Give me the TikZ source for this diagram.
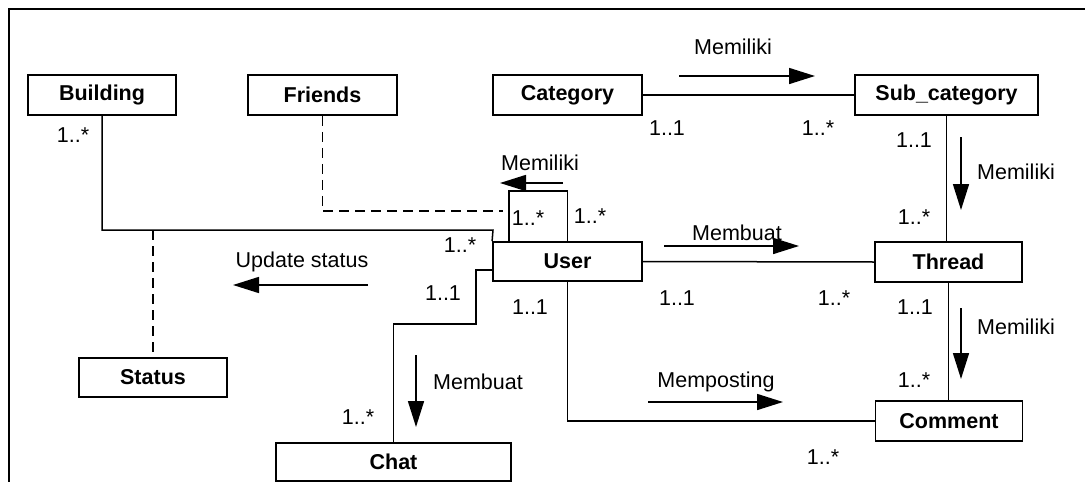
\documentclass[tikz,border=0pt]{standalone}
\usepackage{fontspec}
\setmainfont{Liberation Sans}
\usetikzlibrary{arrows.meta,calc}
\begin{document}
\begin{tikzpicture}[x=1pt,y=-1pt,
  cls/.style={draw,line width=1.8pt,minimum height=40pt,inner sep=0pt,font=\fontsize{21.5}{24}\selectfont\bfseries},
  conn/.style={line width=1.5pt},
  dep/.style={line width=1.5pt,dash pattern=on 10pt off 6pt},
  dir/.style={line width=1.6pt,-{Triangle[length=26pt,width=16pt]}},
  lbl/.style={font=\fontsize{21.5}{24}\selectfont,inner sep=0pt}]
\useasboundingbox (0,0) rectangle (1085,482);
% frame
\draw[line width=1.2pt] (1085,9) -- (9,9) -- (9,482);
% classes
\node[cls,minimum width=148pt] (bld) at (102,95) {Building};
\node[cls,minimum width=149pt] (frd) at (322.5,95) {Friends};
\node[cls,minimum width=149pt] (cat) at (567.5,95) {Category};
\node[cls,minimum width=183pt] (sub) at (946.5,95) {Sub\_category};
\node[cls,minimum width=149pt,minimum height=39pt] (usr) at (567.5,261.5) {User};
\node[cls,minimum width=147pt] (thr) at (948.5,262) {Thread};
\node[cls,minimum width=148pt,minimum height=39pt] (sts) at (153,377.5) {Status};
\node[cls,minimum width=147pt] (cmt) at (949,421) {Comment};
\node[cls,minimum width=235pt,minimum height=38pt] (cht) at (393.5,462) {Chat};
% helper coordinates
\coordinate (b1) at (493,230);
\coordinate (f1) at (503,211);
\coordinate (c2) at (393.5,324);
% connectors
\draw[conn] (bld.south) |- (b1) -- (usr.north west);
\draw[dep] (sts.north |- b1) -- (sts.north);
\draw[dep] (frd.south) |- (f1);
\draw[conn] ([xshift=-58.5pt]usr.north) -- ++(0,50pt) -| (usr.north);
\draw[conn] (cat.east) -- (sub.west);
\draw[conn] (sub.south) -- (sub.south |- thr.north);
\draw[conn] (usr.east) -- (thr.west);
\draw[conn] (thr.south) -- (thr.south |- cmt.north);
\draw[conn] (usr.south) |- (cmt.west);
\draw[conn] ([yshift=-8.5pt]usr.west) -- ++(-16pt,0) |- (c2) -- (cht.north);
% direction arrows
\coordinate (a1s) at (679,76);  \coordinate (a1e) at (815,76);
\coordinate (a2s) at (961,137); \coordinate (a2e) at (961,210);
\coordinate (a3s) at (563,183); \coordinate (a3e) at (500,183);
\coordinate (a4s) at (368,285); \coordinate (a4e) at (233,285);
\coordinate (a5s) at (664,246); \coordinate (a5e) at (799,246);
\coordinate (a6s) at (961,308); \coordinate (a6e) at (961,379);
\coordinate (a7s) at (648,402); \coordinate (a7e) at (783,402);
\coordinate (a8s) at (416,355); \coordinate (a8e) at (416,427);
\draw[dir] (a1s) -- (a1e);
\draw[dir] (a2s) -- (a2e);
\draw[dir] (a3s) -- (a3e);
\draw[dir] (a4s) -- (a4e);
\draw[dir] (a5s) -- (a5e);
\draw[dir] (a6s) -- (a6e);
\draw[dir] (a7s) -- (a7e);
\draw[dir] (a8s) -- (a8e);
% labels
\node[lbl] (l1) at (733,47) {Memiliki};
\node[lbl] (l2) at (1016,172) {Memiliki};
\node[lbl] (l3) at (540,163) {Memiliki};
\node[lbl] (l4) at (302,262) {Update status};
\node[lbl] (l5) at (737,233) {Membuat};
\node[lbl] (l6) at (1016,327) {Memiliki};
\node[lbl] (l7) at (716,382) {Memposting};
\node[lbl] (l8) at (478,382) {Membuat};
% multiplicities
\node[lbl] (m1) at (73,135) {1..*};
\node[lbl] (m2) at (667,128) {1..1};
\node[lbl] (m3) at (818,128) {1..*};
\node[lbl] (m4) at (914,140) {1..1};
\node[lbl] (m5) at (914,217) {1..*};
\node[lbl] (m6) at (528,218) {1..*};
\node[lbl] (m7) at (590,216) {1..*};
\node[lbl] (m8) at (460,245) {1..*};
\node[lbl] (m9) at (443,293) {1..1};
\node[lbl] (m10) at (530,307) {1..1};
\node[lbl] (m11) at (677,298) {1..1};
\node[lbl] (m12) at (834,298) {1..*};
\node[lbl] (m13) at (915,307) {1..1};
\node[lbl] (m14) at (914,380) {1..*};
\node[lbl] (m15) at (823,457) {1..*};
\node[lbl] (m16) at (358,417) {1..*};
\end{tikzpicture}
\end{document}
